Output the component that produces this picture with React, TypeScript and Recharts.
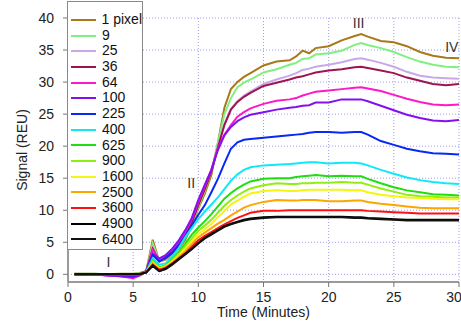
import { CartesianGrid, Legend, Line, LineChart, ReferenceDot, XAxis, YAxis } from 'recharts'

const FONT = "'Liberation Sans', Arial, sans-serif"

// time in minutes
const TIME = [0.5, 2, 3, 4, 5, 5.5, 6, 6.5, 7, 7.5, 8, 8.5, 9, 9.5, 10, 10.5, 11, 11.5, 12, 12.5, 13, 13.5, 14, 15, 16, 17, 17.5, 18, 18.5, 19, 20, 21, 22, 22.5, 23, 24, 25, 26, 27, 28, 29, 30]

const PX_1 = [0.1, 0.1, 0, 0.1, 0.1, 0.2, 0.5, 5.4, 2.0, 2.3, 3.0, 4.0, 5.4, 7.6, 10.3, 12.6, 15.5, 20.5, 26.0, 28.9, 30.0, 30.8, 31.4, 32.6, 33.2, 33.4, 34.0, 34.9, 34.5, 35.3, 35.6, 36.5, 37.2, 37.5, 37.1, 36.4, 36.2, 35.6, 34.7, 34.1, 33.8, 33.7]
const PX_9 = [0.1, 0.1, 0, 0, 0, 0.2, 0.5, 4.8, 2.0, 2.4, 3.1, 4.2, 5.8, 7.8, 10.5, 13.0, 16.0, 20.5, 25.0, 27.5, 29.2, 29.9, 30.4, 31.5, 32.0, 32.7, 33.0, 33.6, 33.7, 34.3, 34.5, 34.9, 35.8, 36.1, 35.8, 35.3, 34.7, 33.9, 33.2, 32.7, 32.4, 32.3]
const PX_25 = [0.1, 0, 0, -0.1, -0.1, 0.1, 0.5, 4.2, 2.1, 2.5, 3.3, 4.5, 6.2, 8.3, 11.0, 13.5, 16.3, 20.0, 23.5, 25.8, 27.0, 27.9, 28.5, 29.7, 30.4, 31.0, 31.4, 31.9, 32.1, 32.4, 32.7, 33.1, 33.6, 33.7, 33.5, 33.0, 32.4, 31.6, 31.0, 30.7, 30.6, 30.5]
const PX_36 = [0, 0, -0.1, -0.1, -0.2, 0.1, 0.5, 4.0, 2.1, 2.5, 3.3, 4.5, 6.1, 8.1, 10.8, 13.3, 16.0, 19.8, 23.3, 25.7, 26.9, 27.7, 28.3, 29.4, 29.9, 30.4, 30.7, 30.9, 31.2, 31.5, 31.8, 32.0, 32.3, 32.4, 32.2, 31.8, 31.4, 30.7, 30.2, 29.7, 29.5, 29.7]
const PX_64 = [0, 0, -0.2, -0.3, -0.6, -0.2, 0.4, 3.8, 2.2, 2.7, 3.7, 5.0, 6.6, 8.6, 11.3, 13.8, 16.3, 19.6, 21.8, 23.3, 24.6, 25.3, 25.9, 26.6, 27.1, 27.3, 27.5, 27.9, 28.2, 28.5, 28.7, 28.9, 29.1, 29.2, 29.0, 28.6, 28.0, 27.4, 26.9, 26.5, 26.4, 26.5]
const PX_100 = [0, 0, -0.2, -0.3, -0.4, -0.1, 0.5, 3.2, 2.5, 3.0, 4.0, 5.3, 6.9, 8.8, 11.6, 14.0, 16.3, 19.4, 21.7, 23.0, 23.9, 24.5, 24.9, 25.3, 25.7, 26.0, 26.1, 26.3, 26.4, 26.8, 26.8, 27.3, 27.3, 27.3, 27.0, 26.3, 25.6, 24.9, 24.4, 24.0, 23.9, 24.1]
const PX_225 = [0, 0, -0.1, -0.1, -0.2, 0, 0.4, 3.0, 2.0, 2.6, 3.4, 4.6, 6.0, 7.6, 9.3, 10.8, 12.8, 14.9, 17.3, 19.6, 20.6, 21.0, 21.1, 21.3, 21.5, 21.7, 21.8, 21.9, 22.1, 22.2, 22.2, 22.1, 22.2, 22.2, 21.8, 20.8, 20.2, 19.6, 19.2, 18.9, 18.8, 18.7]
const PX_400 = [0, 0, 0, -0.1, -0.1, 0, 0.4, 2.5, 1.5, 1.7, 2.8, 4.1, 5.8, 7.2, 8.6, 9.8, 10.9, 12.0, 13.3, 14.6, 15.6, 16.3, 16.7, 17.0, 17.1, 17.2, 17.3, 17.4, 17.5, 17.5, 17.3, 17.4, 17.4, 17.3, 17.0, 16.3, 15.7, 15.1, 14.7, 14.4, 14.2, 14.1]
const PX_625 = [0, 0, 0, 0, 0, 0, 0.3, 2.1, 1.1, 1.4, 2.4, 3.5, 4.8, 6.2, 7.3, 8.3, 9.4, 10.6, 11.8, 12.7, 13.4, 14.0, 14.5, 14.9, 15.0, 15.0, 15.2, 15.3, 15.4, 15.5, 15.3, 15.4, 15.3, 15.3, 14.9, 14.2, 13.6, 13.1, 12.8, 12.5, 12.4, 12.3]
const PX_900 = [0, 0, 0, 0, 0, 0, 0.3, 2.0, 1.0, 1.3, 2.2, 3.2, 4.4, 5.6, 6.8, 7.6, 8.5, 9.6, 10.7, 11.6, 12.3, 12.9, 13.4, 13.9, 14.2, 14.1, 14.1, 14.2, 14.2, 14.3, 14.3, 14.4, 14.3, 14.3, 14.0, 13.4, 12.9, 12.4, 12.2, 12.1, 12.0, 12.0]
const PX_1600 = [0, 0, 0, 0, 0, 0, 0.3, 1.8, 0.9, 1.2, 2.0, 2.9, 4.0, 5.1, 6.3, 7.0, 7.9, 8.9, 9.9, 10.9, 11.5, 12.1, 12.6, 13.0, 13.1, 13.0, 13.0, 13.1, 13.2, 13.2, 13.2, 13.2, 13.1, 13.1, 12.8, 12.4, 12.2, 12.0, 11.9, 11.8, 11.7, 11.7]
const PX_2500 = [0, 0, 0, 0, 0, 0, 0.3, 1.7, 0.8, 1.1, 1.8, 2.7, 3.6, 4.7, 5.8, 6.5, 7.2, 7.9, 8.5, 9.2, 9.8, 10.4, 10.8, 11.3, 11.6, 11.5, 11.5, 11.6, 11.6, 11.6, 11.4, 11.4, 11.5, 11.5, 11.3, 11.0, 10.8, 10.6, 10.4, 10.3, 10.3, 10.3]
const PX_3600 = [0, 0, 0, 0, 0, 0, 0.3, 1.5, 0.7, 1.0, 1.7, 2.5, 3.3, 4.3, 5.3, 6.0, 6.6, 7.2, 7.8, 8.3, 8.8, 9.2, 9.6, 9.9, 9.9, 10.0, 10.0, 10.0, 10.0, 10.0, 10.0, 10.0, 10.0, 10.0, 9.9, 9.8, 9.7, 9.6, 9.5, 9.5, 9.5, 9.5]
const PX_4900 = [0, 0, 0, 0, 0, 0, 0.3, 1.4, 0.5, 0.9, 1.6, 2.4, 3.2, 4.0, 4.9, 5.7, 6.3, 6.9, 7.5, 7.9, 8.2, 8.5, 8.7, 8.9, 9.0, 9.0, 9.0, 9.0, 9.0, 9.0, 9.0, 9.0, 8.9, 8.9, 8.8, 8.7, 8.6, 8.5, 8.5, 8.5, 8.5, 8.5]
const PX_6400 = [0, 0, 0, 0, 0, 0, 0.3, 1.3, 0.5, 0.8, 1.5, 2.3, 3.1, 3.9, 4.8, 5.6, 6.2, 6.8, 7.4, 7.8, 8.1, 8.4, 8.6, 8.8, 8.9, 8.9, 8.9, 8.9, 8.9, 8.9, 8.9, 8.9, 8.8, 8.8, 8.7, 8.6, 8.5, 8.4, 8.4, 8.4, 8.4, 8.4]

const SERIES = [
  { name: '1 pixel', values: PX_1, color: '#a8781a' },
  { name: '9', values: PX_9, color: '#80f080' },
  { name: '25', values: PX_25, color: '#c9a8e8' },
  { name: '36', values: PX_36, color: '#9e1450' },
  { name: '64', values: PX_64, color: '#ff18c8' },
  { name: '100', values: PX_100, color: '#8410f0' },
  { name: '225', values: PX_225, color: '#0a28f5' },
  { name: '400', values: PX_400, color: '#10e8f8' },
  { name: '625', values: PX_625, color: '#20dd10' },
  { name: '900', values: PX_900, color: '#90ee10' },
  { name: '1600', values: PX_1600, color: '#f5f510' },
  { name: '2500', values: PX_2500, color: '#ffa500' },
  { name: '3600', values: PX_3600, color: '#ff1010' },
  { name: '4900', values: PX_4900, color: '#000000' },
  { name: '6400', values: PX_6400, color: '#111111' },
]

const X_TICKS = [0, 5, 10, 15, 20, 25, 30]
const Y_TICKS = [0, 5, 10, 15, 20, 25, 30, 35, 40]

const NOTES = [
  { text: 'I', t: 3.1, v: 1.9 },
  { text: 'II', t: 9.45, v: 14.3 },
  { text: 'III', t: 22.3, v: 39.2 },
  { text: 'IV', t: 29.45, v: 35.5 },
]

const rows = TIME.map((t, i) => {
  const r: Record<string, number> = { t }
  SERIES.forEach((s, k) => {
    r['s' + k] = s.values[i]
  })
  return r
})

const TICK = { fontSize: 14, fontFamily: FONT, fill: '#222' }

function LegendBox() {
  return (
    <div
      style={{
        width: 76,
        height: 249,
        boxSizing: 'border-box',
        background: '#fff',
        border: '1px solid #8a8a8a',
        paddingTop: 10,
        fontFamily: FONT,
        fontSize: 14,
        color: '#111',
      }}
    >
      {SERIES.map((s) => (
        <div key={s.name} style={{ display: 'flex', alignItems: 'center', height: 15.7 }}>
          <span style={{ width: 25, height: 2, background: s.color, marginLeft: 3, marginRight: 6 }} />
          <span style={{ lineHeight: '15.7px', whiteSpace: 'nowrap' }}>{s.name}</span>
        </div>
      ))}
    </div>
  )
}

function YTitle(props: any) {
  const vb = props.viewBox
  const cx = 22
  const cy = vb.y + vb.height / 2
  return (
    <text x={cx} y={cy} transform={`rotate(-90, ${cx}, ${cy})`} textAnchor="middle" dominantBaseline="central" fontSize={14} fontFamily={FONT} fill="#222">
      Signal (REU)
    </text>
  )
}

function XTitle(props: any) {
  const vb = props.viewBox
  return (
    <text x={vb.x + vb.width / 2} y={317} textAnchor="middle" fontSize={14} fontFamily={FONT} fill="#222">
      Time (Minutes)
    </text>
  )
}

export default function App() {
  return (
    <div style={{ position: 'absolute', left: 0, top: 0 }}>
      <LineChart width={461} height={321} data={rows} margin={{ top: 18, right: 2, bottom: 9, left: 0 }}>
        <CartesianGrid stroke="#9c9cf0" strokeDasharray="1 2" horizontalValues={Y_TICKS} verticalValues={X_TICKS} />
        <XAxis
          dataKey="t"
          type="number"
          domain={[0, 30]}
          ticks={X_TICKS}
          height={30}
          tick={TICK}
          tickSize={5}
          tickMargin={5}
          axisLine={{ stroke: '#9a9a9a', strokeWidth: 2 }}
          tickLine={{ stroke: '#777' }}
          label={<XTitle />}
          allowDataOverflow
        />
        <YAxis
          type="number"
          domain={[-1.2, 40]}
          ticks={Y_TICKS}
          width={68}
          tick={TICK}
          tickSize={5}
          tickMargin={9}
          axisLine={{ stroke: '#9a9a9a', strokeWidth: 2 }}
          tickLine={{ stroke: '#777' }}
          label={<YTitle />}
          allowDataOverflow
        />
        {SERIES.map((s, k) => (
          <Line
            key={s.name}
            dataKey={'s' + k}
            name={s.name}
            stroke={s.color}
            strokeWidth={2}
            dot={false}
            type="linear"
            isAnimationActive={false}
          />
        ))}
        {NOTES.map((n) => (
          <ReferenceDot
            key={n.text}
            x={n.t}
            y={n.v}
            r={0}
            fill="none"
            stroke="none"
            label={{ value: n.text, position: 'center', fontSize: 14, fontFamily: FONT, fill: '#333' }}
          />
        ))}
        <Legend
          layout="vertical"
          align="center"
          verticalAlign="middle"
          content={<LegendBox />}
          wrapperStyle={{ left: 67, top: 1, width: 76, height: 249 }}
        />
      </LineChart>
    </div>
  )
}
